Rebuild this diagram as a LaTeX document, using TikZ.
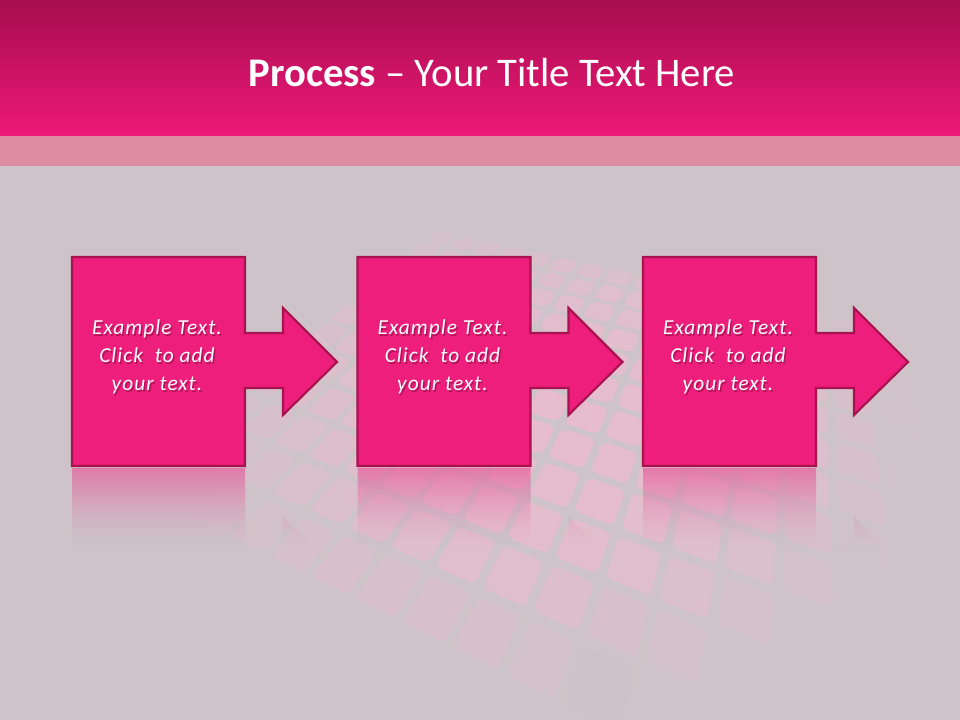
\documentclass[tikz,border=0pt]{standalone}
\usepackage{fontspec}
\setmainfont{Carlito}
\definecolor{bgc}{HTML}{CDC3C9}
\definecolor{hdtop}{HTML}{A60E4E}
\definecolor{hdbot}{HTML}{EE1878}
\definecolor{band}{HTML}{DC8DA2}
\definecolor{boxfill}{HTML}{EE1E7C}
\definecolor{boxline}{HTML}{A8124F}
\definecolor{tile}{HTML}{F8BAD2}
\definecolor{refl}{HTML}{E6609C}
\definecolor{shadowc}{HTML}{6A0830}
\tikzset{
  stepshape/.style={fill=boxfill, draw=boxline, line width=1.6pt, line join=miter},
  bodytext/.style={align=center, text=white, font=\fontsize{16}{21}\selectfont\itshape\addfontfeatures{LetterSpace=5}, inner sep=0pt},
  shadowtext/.style={bodytext, text=shadowc, opacity=0.45},
}
\newcommand\tpt[3]{%
  \pgfmathsetmacro\tX{(#1)*cos(22)-(#2)*sin(22)}%
  \pgfmathsetmacro\tY{(#1)*sin(22)+(#2)*cos(22)}%
  \pgfmathsetmacro\tw{15/(15-\tY)}%
  \pgfmathsetmacro\px{560+42*\tX*\tw}%
  \pgfmathsetmacro\py{425+42*\tY*\tw*0.8}%
  \coordinate (#3) at (\px,\py);%
}
\begin{document}
\begin{tikzpicture}[x=0.75pt,y=-0.75pt]
\useasboundingbox (0,0) rectangle (960,720);
% background
\fill[bgc] (0,0) rectangle (960,720);
\shade[top color=hdtop, bottom color=hdbot] (0,0) rectangle (960,136);
\fill[band] (0,136) rectangle (960,166);
% perspective tile grid
\begin{scope}
\clip (0,190) rectangle (960,720);
\foreach \i in {-8,...,7}{
  \foreach \j in {-7,...,6}{
    \tpt{\i+0.5}{\j+0.5}{cc}
    \pgfmathsetmacro\op{max(0,0.62*(1-((\px-560)/370)^2-((\py-435)/255)^2))}
    \ifdim\op pt>0.01pt
      \tpt{\i+0.08}{\j+0.08}{c1}
      \tpt{\i+0.92}{\j+0.08}{c2}
      \tpt{\i+0.92}{\j+0.92}{c3}
      \tpt{\i+0.08}{\j+0.92}{c4}
      \fill[tile, fill opacity=\op, rounded corners=5pt] (c1) -- (c2) -- (c3) -- (c4) -- cycle;
    \fi
  }
}
\end{scope}
% title
\node[anchor=base, text=white, font=\fontsize{30.5}{36}\selectfont, inner sep=0pt] (title) at (492,87) {\textbf{Process} – Your Title Text Here};
% steps
\foreach \k/\dx in {1/0,2/285.5,3/571}{
  \begin{scope}[xshift=\dx*0.75pt]
    % reflection (manual fade)
    \begin{scope}
      \clip (72,468) -- (245,468) -- (245,544) -- (283,544) -- (283,517) -- (337,570) -- (283,624) -- (283,599) -- (245,599) -- (245,677) -- (72,677) -- cycle;
      \foreach \s in {0,...,39}{
        \pgfmathsetmacro\rop{0.72*(1-\s/40)^1.6}
        \fill[refl, fill opacity=\rop] (60,468+2*\s) rectangle (360,470.2+2*\s);
      }
    \end{scope}
    \draw[stepshape] (72,257) -- (245,257) -- (245,333) -- (283,333) -- (283,308) -- (337,362) -- (283,415) -- (283,388) -- (245,388) -- (245,466) -- (72,466) -- cycle;
    \node[shadowtext] (s\k) at (158.5,358.5) {Example Text.\\Click~ to add\\your text.};
    \node[bodytext] (t\k) at (157,357) {Example Text.\\Click~ to add\\your text.};
  \end{scope}
}
\end{tikzpicture}
\end{document}
